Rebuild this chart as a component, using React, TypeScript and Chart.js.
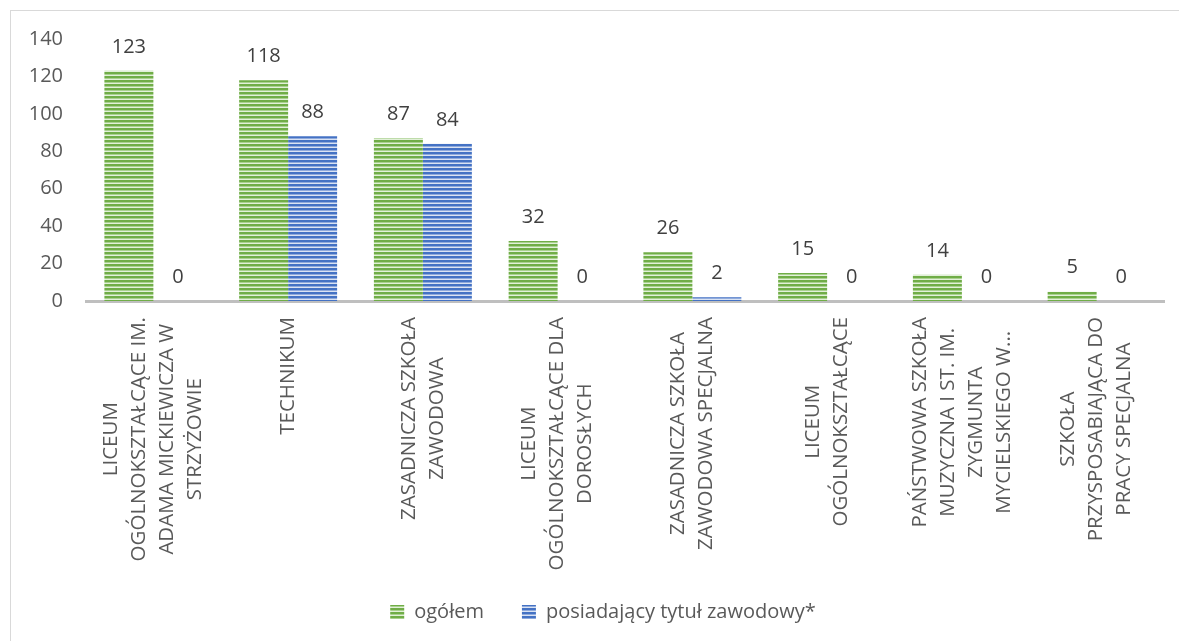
import React, { useEffect, useRef } from "react";
import { Chart, registerables } from "chart.js";

Chart.register(...registerables);

const categories: string[][] = [
  ["LICEUM", "OGÓLNOKSZTAŁCĄCE IM.", "ADAMA MICKIEWICZA W", "STRZYŻOWIE"],
  ["TECHNIKUM"],
  ["ZASADNICZA SZKOŁA", "ZAWODOWA"],
  ["LICEUM", "OGÓLNOKSZTAŁCĄCE DLA", "DOROSŁYCH"],
  ["ZASADNICZA SZKOŁA", "ZAWODOWA SPECJALNA"],
  ["LICEUM", "OGÓLNOKSZTAŁCĄCE"],
  ["PAŃSTWOWA SZKOŁA", "MUZYCZNA I ST. IM.", "ZYGMUNTA", "MYCIELSKIEGO W..."],
  ["SZKOŁA", "PRZYSPOSABIAJĄCA DO", "PRACY SPECJALNA"],
];

const ogolem: number[] = [123, 118, 87, 32, 26, 15, 14, 5];
const zawodowy: number[] = [0, 88, 84, 0, 2, 0, 0, 0];

const seriesNames: string[] = ["ogółem", "posiadający tytuł zawodowy*"];
const yTicks: number[] = [0, 20, 40, 60, 80, 100, 120, 140];

const FONT = "'Open Sans', sans-serif";

function makePattern(dark: string, mid: string, light: string): CanvasPattern | string {
  const c = document.createElement("canvas");
  c.width = 4;
  c.height = 4;
  const g = c.getContext("2d");
  if (!g) return dark;
  g.fillStyle = dark;
  g.fillRect(0, 0, 4, 2);
  g.fillStyle = mid;
  g.fillRect(0, 2, 4, 1);
  g.fillStyle = light;
  g.fillRect(0, 3, 4, 1);
  const p = g.createPattern(c, "repeat");
  return p || dark;
}

const dataLabelsPlugin = {
  id: "dataLabels",
  afterDatasetsDraw(chart: any) {
    const ctx = chart.ctx;
    ctx.save();
    ctx.font = `20px ${FONT}`;
    ctx.fillStyle = "#404040";
    ctx.textAlign = "center";
    ctx.textBaseline = "middle";
    chart.data.datasets.forEach((ds: any, di: number) => {
      const meta = chart.getDatasetMeta(di);
      meta.data.forEach((el: any, i: number) => {
        ctx.fillText(String(ds.data[i]), el.x, el.y - 24);
      });
    });
    ctx.restore();
  },
};

const xLabelsPlugin = {
  id: "xLabels",
  afterDraw(chart: any) {
    const ctx = chart.ctx;
    const xs = chart.scales.x;
    const top = chart.chartArea.bottom + 16;
    const lh = 28;
    ctx.save();
    ctx.font = `20.5px ${FONT}`;
    ctx.fillStyle = "#595959";
    ctx.textAlign = "center";
    ctx.textBaseline = "middle";
    categories.forEach((lines, i) => {
      const x = xs.getPixelForTick(i);
      let maxW = 0;
      lines.forEach((l) => (maxW = Math.max(maxW, ctx.measureText(l).width)));
      ctx.save();
      ctx.translate(x, top + maxW / 2);
      ctx.rotate(-Math.PI / 2);
      lines.forEach((l, j) => {
        ctx.fillText(l, 0, (j - (lines.length - 1) / 2) * lh);
      });
      ctx.restore();
    });
    ctx.restore();
  },
};

const legendShiftPlugin = {
  id: "legendShift",
  afterLayout(chart: any) {
    const l = chart.legend;
    if (l) {
      l.left += 21;
      l.right += 21;
    }
  },
};

export default function App() {
  const ref = useRef<HTMLCanvasElement | null>(null);
  useEffect(() => {
    if (!ref.current) return;
    const green = makePattern("#70ad47", "#a9d18e", "#e2f0d9");
    const blue = makePattern("#4472c4", "#8faadc", "#dae3f3");
    const chart = new Chart(ref.current, {
      type: "bar",
      data: {
        labels: categories.map((c) => c.join(" ")),
        datasets: [
          { label: seriesNames[0], data: ogolem, backgroundColor: green as any, borderWidth: 0 },
          { label: seriesNames[1], data: zawodowy, backgroundColor: blue as any, borderWidth: 0 },
        ],
      },
      options: {
        animation: false,
        responsive: false,
        maintainAspectRatio: false,
        datasets: { bar: { barPercentage: 1, categoryPercentage: 0.727 } },
        layout: { padding: { left: 0, right: 15, top: 39, bottom: 9 } },
        scales: {
          x: {
            grid: { display: false, drawTicks: false },
            border: { display: true, color: "#bfbfbf", width: 3 },
            ticks: { display: false },
            afterFit: (s: any) => {
              s.height = 263;
            },
          },
          y: {
            min: 0,
            max: 140,
            afterBuildTicks: (s: any) => {
              s.ticks = yTicks.map((v) => ({ value: v }));
            },
            grid: { display: false, drawTicks: false, tickLength: 0 },
            border: { display: false },
            ticks: {
              font: { family: FONT, size: 20 },
              color: "#595959",
              padding: 23,
            },
            afterFit: (s: any) => {
              s.width = 86;
            },
          },
        },
        plugins: {
          legend: {
            position: "bottom",
            labels: {
              boxWidth: 14,
              boxHeight: 14,
              padding: 38,
              color: "#595959",
              font: { family: FONT, size: 20 },
            },
          },
          tooltip: { enabled: false },
        },
      },
      plugins: [dataLabelsPlugin, xLabelsPlugin, legendShiftPlugin],
    });
    return () => chart.destroy();
  }, []);

  return (
    <div
      style={{
        position: "fixed",
        left: 0,
        top: 0,
        width: 1179,
        height: 641,
        overflow: "hidden",
        background: "#fff",
      }}
    >
      <div
        style={{
          position: "absolute",
          left: 10,
          top: 10,
          width: 1200,
          height: 700,
          border: "1px solid #d9d9d9",
          boxSizing: "border-box",
        }}
      />
      <canvas
        ref={ref}
        width={1179}
        height={641}
        style={{ position: "absolute", left: 0, top: 0, width: 1179, height: 641 }}
      />
    </div>
  );
}
